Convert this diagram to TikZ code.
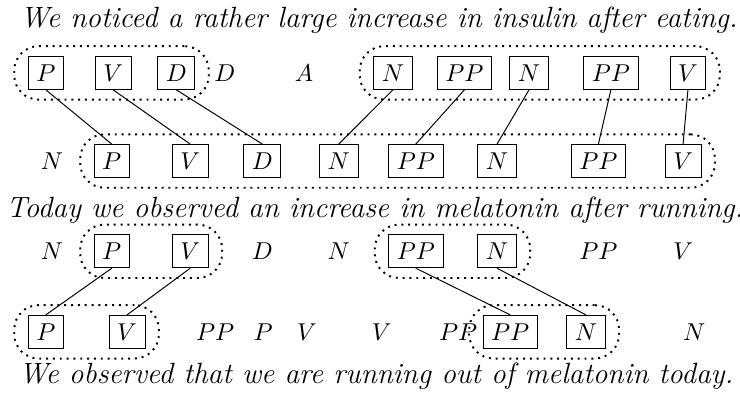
\documentclass[tikz,border=0pt]{standalone}
\usetikzlibrary{fit}
\tikzset{
  word/.style={inner sep=3.33pt},
  tagbox/.style={word,draw},
  chunk/.style={draw,thick,dotted,rounded corners=10pt,inner xsep=5.5pt,inner ysep=4pt},
  sent/.style={anchor=base,inner sep=0pt,font=\large\itshape}
}
\begin{document}
\begin{tikzpicture}
  \useasboundingbox (0,0) rectangle (10.66,-5.66);
  \node[sent] (s1) at (5.46,-0.40) {We noticed a rather large increase in insulin after eating.};
  \node[sent] (s2) at (5.40,-3.13) {Today we observed an increase in melatonin after running.};
  \node[sent] (s3) at (5.42,-5.52) {We observed that we are running out of melatonin today.};

  \node[tagbox] (a1) at (0.66,-1.05) {$P$};
  \node[tagbox] (a2) at (1.63,-1.05) {$V$};
  \node[tagbox] (a3) at (2.54,-1.05) {$D$};
  \node[word] (a4) at (3.24,-1.05) {$D$};
  \node[word] (a5) at (4.38,-1.05) {$A$};
  \node[tagbox] (a6) at (5.66,-1.05) {$N$};
  \node[tagbox] (a7) at (6.69,-1.05) {$PP$};
  \node[tagbox] (a8) at (7.62,-1.05) {$N$};
  \node[tagbox] (a9) at (8.80,-1.05) {$PP$};
  \node[tagbox] (a10) at (9.91,-1.05) {$V$};

  \node[word] (b1) at (0.75,-2.32) {$N$};
  \node[tagbox] (b2) at (1.61,-2.32) {$P$};
  \node[tagbox] (b3) at (2.74,-2.32) {$V$};
  \node[tagbox] (b4) at (3.78,-2.32) {$D$};
  \node[tagbox] (b5) at (4.88,-2.32) {$N$};
  \node[tagbox] (b6) at (5.99,-2.32) {$PP$};
  \node[tagbox] (b7) at (7.16,-2.32) {$N$};
  \node[tagbox] (b8) at (8.62,-2.32) {$PP$};
  \node[tagbox] (b9) at (9.84,-2.32) {$V$};

  \node[word] (c1) at (0.75,-3.62) {$N$};
  \node[tagbox] (c2) at (1.61,-3.62) {$P$};
  \node[tagbox] (c3) at (2.74,-3.62) {$V$};
  \node[word] (c4) at (3.78,-3.62) {$D$};
  \node[word] (c5) at (4.88,-3.62) {$N$};
  \node[tagbox] (c6) at (5.99,-3.62) {$PP$};
  \node[tagbox] (c7) at (7.16,-3.62) {$N$};
  \node[word] (c8) at (8.62,-3.62) {$PP$};
  \node[word] (c9) at (9.84,-3.62) {$V$};

  \node[tagbox] (d1) at (0.66,-4.78) {$P$};
  \node[tagbox] (d2) at (1.83,-4.78) {$V$};
  \node[word] (d3) at (3.10,-4.78) {$PP$};
  \node[word] (d4) at (3.79,-4.78) {$P$};
  \node[word] (d5) at (4.42,-4.78) {$V$};
  \node[word] (d6) at (5.50,-4.78) {$V$};
  \node[word] (d7) at (6.60,-4.78) {$PP$};
  \node[tagbox] (d8) at (7.35,-4.78) {$PP$};
  \node[tagbox] (d9) at (8.44,-4.78) {$N$};
  \node[word] (d10) at (10.00,-4.78) {$N$};

  \node[chunk,fit=(a1)(a3)] (ga) {};
  \node[chunk,fit=(a6)(a10)] (gb) {};
  \node[chunk,fit=(b2)(b9)] (gc) {};
  \node[chunk,fit=(c2)(c3)] (gd) {};
  \node[chunk,fit=(c6)(c7)] (ge) {};
  \node[chunk,fit=(d1)(d2)] (gf) {};
  \node[chunk,fit=(d8)(d9)] (gg) {};

  \foreach \u/\v in {a1/b2,a2/b3,a3/b4,a6/b5,a7/b6,a8/b7,a9/b8,a10/b9,c2/d1,c3/d2,c6/d8,c7/d9}
    \draw (\u.south) -- (\v.north);
\end{tikzpicture}
\end{document}
